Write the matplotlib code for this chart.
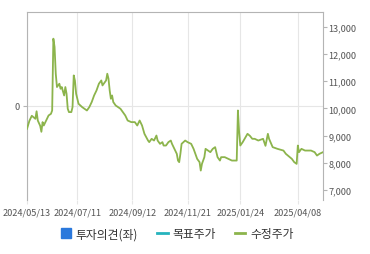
import matplotlib
matplotlib.use("Agg")
import matplotlib.pyplot as plt
from matplotlib.lines import Line2D

plt.rcParams['font.family'] = ['Noto Sans CJK KR', 'DejaVu Sans']

# trading-day index and adjusted close price (수정주가)
day_idx = [0, 2, 4, 7, 8, 9, 11, 12, 13, 14, 16, 18, 20, 21, 22, 23, 24, 25, 27, 28,
           29, 31, 32, 33, 34, 35, 37, 38, 39, 40, 41, 43, 46, 48, 50, 52, 54, 56, 58, 60,
           62, 63, 64, 66, 67, 68, 69, 70, 71, 72, 74, 76, 78, 80, 82, 84, 87, 90, 92, 94,
           96, 98, 101, 102, 104, 106, 108, 109, 111, 113, 114, 116, 118, 120, 121, 123, 125, 126, 127, 128,
           129, 132, 134, 137, 139, 142, 144, 145, 146, 148, 149, 151, 153, 155, 157, 158, 159, 161, 162, 165,
           168, 171, 175, 176, 177, 178, 180, 183, 184, 186, 188, 190, 193, 197, 199, 201, 202, 205, 209, 214,
           216, 221, 223, 225, 226, 227, 229, 232, 234, 237, 240, 242, 244, 247]
price = [9250, 9545, 9730, 9619, 9896, 9556, 9361, 9140, 9497, 9372, 9556, 9741, 9803, 9925, 12569, 12263, 11278, 10788, 10910, 10725,
         10788, 10478, 10788, 10541, 9988, 9866, 9866, 10050, 11216, 11020, 10541, 10172, 10050, 9988, 9925, 10050, 10235, 10478, 10662, 10910,
         11031, 10847, 10910, 11031, 11278, 11094, 10662, 10356, 10478, 10235, 10109, 10050, 9988, 9866, 9741, 9556, 9497, 9497, 9372, 9556,
         9372, 9066, 8819, 8760, 8882, 8819, 9003, 8819, 8697, 8760, 8635, 8635, 8760, 8819, 8697, 8513, 8329, 8082, 8023, 8329,
         8697, 8819, 8760, 8697, 8513, 8144, 8023, 7713, 7960, 8207, 8513, 8450, 8391, 8513, 8576, 8391, 8207, 8082, 8207, 8207,
         8144, 8082, 8082, 9925, 9129, 8635, 8760, 8992, 9066, 8992, 8882, 8882, 8819, 8882, 8624, 9066, 8882, 8576, 8513, 8450,
         8329, 8144, 8023, 7960, 8635, 8391, 8513, 8450, 8450, 8450, 8391, 8266, 8329, 8391]

tick_idx = [0, 42, 88, 134, 178, 226]
tick_labels = ['2024/05/13', '2024/07/11', '2024/09/12', '2024/11/21', '2025/01/24', '2025/04/08']
price_ticks = [7000, 8000, 9000, 10000, 11000, 12000, 13000]
legend_labels = ['투자의견(좌)', '목표주가', '수정주가']

green = '#8cb44c'
teal = '#26b3bd'
blue = '#2a78dc'
spine_c = '#b4b4b4'
grid_c = '#e6e6e6'
text_c = '#555555'

fig = plt.figure(figsize=(3.7, 2.55), dpi=100)
ax = fig.add_axes([27/370, 1-201/255, 296/370, 188/255])
ax.set_xlim(0, 247)
ax.set_ylim(-1, 1)
ax.set_yticks([0])
ax.set_yticklabels(['0'])
ax.set_xticks(tick_idx)
ax.set_xticklabels(tick_labels)
ax.grid(True, color=grid_c, linewidth=0.8)
ax.set_axisbelow(True)
ax.tick_params(axis='x', length=3, color=grid_c, labelsize=6.6, labelcolor=text_c, pad=2.5)
ax.tick_params(axis='y', length=3, color=spine_c, labelsize=6.6, labelcolor=text_c, pad=2)
for s in ['left', 'top', 'right']:
    ax.spines[s].set_color(spine_c)
    ax.spines[s].set_linewidth(0.8)
ax.spines['bottom'].set_visible(False)

ax2 = ax.twinx()
ax2.set_ylim(6630, 13550)
ax2.plot(day_idx, price, color=green, linewidth=1.3)
ax2.set_yticks(price_ticks)
ax2.set_yticklabels([f'{v:,}' for v in price_ticks])
ax2.tick_params(axis='y', length=3, color=spine_c, labelsize=6.6, labelcolor=text_c, pad=1)
for s in ['left', 'top', 'right', 'bottom']:
    ax2.spines[s].set_visible(False)

handles = [
    Line2D([], [], marker='s', linestyle='none', markersize=7, color=blue),
    Line2D([], [], color=teal, linewidth=2),
    Line2D([], [], color=green, linewidth=2),
]
fig.legend(handles, legend_labels, loc='center', bbox_to_anchor=(177/370, 1-235/255),
           ncol=3, frameon=False, fontsize=8.5, handlelength=0.9, handletextpad=0.4,
           columnspacing=1.6, labelcolor='#333333')

fig.savefig('out.png', dpi=100)
